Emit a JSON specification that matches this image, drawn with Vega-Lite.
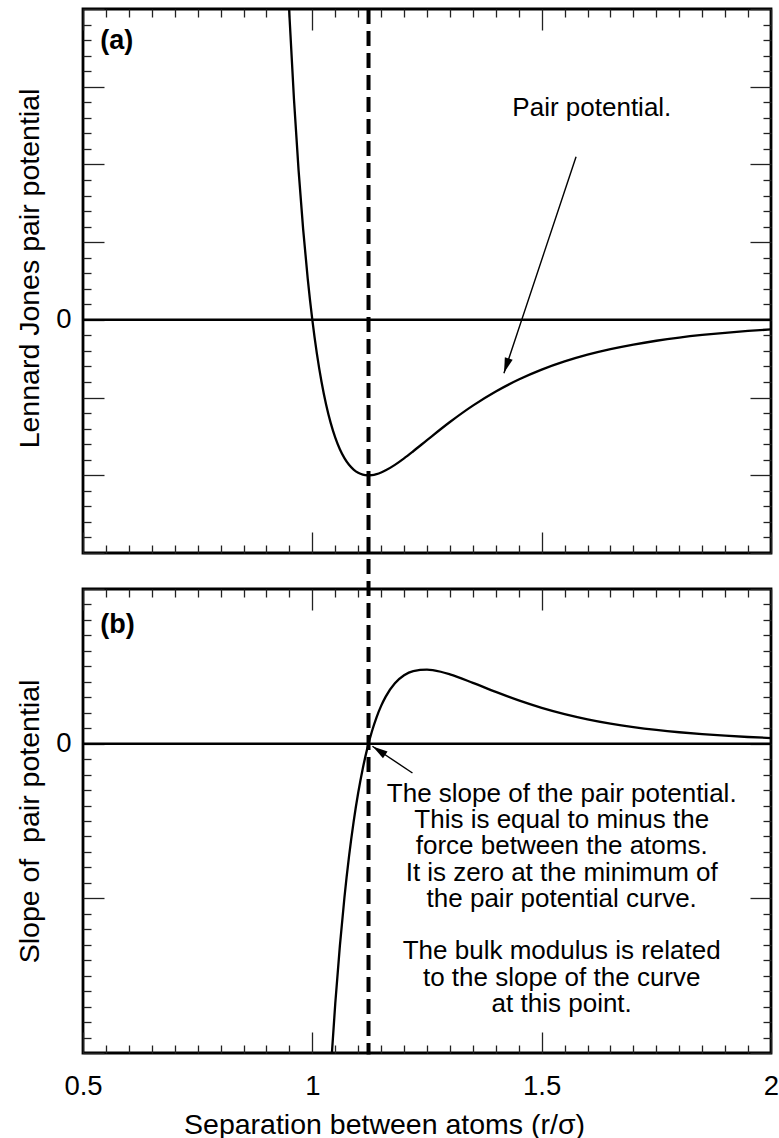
{
  "$schema": "https://vega.github.io/schema/vega-lite/v6.json",
  "background": "white",
  "padding": {"left": 13, "top": 5, "right": 0, "bottom": 0},
  "autosize": {"type": "pad"},
  "bounds": "flush",
  "spacing": 36,
  "datasets": {
    "potential": [
      {"r": 0.93, "V": 3.373}, {"r": 0.94, "V": 2.606}, {"r": 0.95, "V": 1.961}, {"r": 0.96, "V": 1.418},
      {"r": 0.97, "V": 0.963}, {"r": 0.98, "V": 0.582}, {"r": 0.99, "V": 0.264}, {"r": 1.0, "V": 0},
      {"r": 1.01, "V": -0.2184}, {"r": 1.02, "V": -0.3979}, {"r": 1.03, "V": -0.5444}, {"r": 1.04, "V": -0.6629},
      {"r": 1.05, "V": -0.7575}, {"r": 1.06, "V": -0.832}, {"r": 1.07, "V": -0.8893}, {"r": 1.08, "V": -0.9322},
      {"r": 1.09, "V": -0.9629}, {"r": 1.1, "V": -0.9834}, {"r": 1.11, "V": -0.9952}, {"r": 1.12, "V": -0.9998},
      {"r": 1.13, "V": -0.9985}, {"r": 1.14, "V": -0.9921}, {"r": 1.15, "V": -0.9817}, {"r": 1.16, "V": -0.9679},
      {"r": 1.18, "V": -0.9329}, {"r": 1.2, "V": -0.891}, {"r": 1.22, "V": -0.8452}, {"r": 1.25, "V": -0.7737},
      {"r": 1.3, "V": -0.657}, {"r": 1.35, "V": -0.5516}, {"r": 1.4, "V": -0.4607}, {"r": 1.45, "V": -0.3841},
      {"r": 1.5, "V": -0.3203}, {"r": 1.55, "V": -0.2677}, {"r": 1.6, "V": -0.2242}, {"r": 1.65, "V": -0.1884},
      {"r": 1.7, "V": -0.1589}, {"r": 1.75, "V": -0.1344}, {"r": 1.8, "V": -0.1141}, {"r": 1.85, "V": -0.0973},
      {"r": 1.9, "V": -0.0832}, {"r": 1.95, "V": -0.0714}, {"r": 2.0, "V": -0.0615}
    ],
    "slope": [
      {"r": 1.02, "F": -16.21}, {"r": 1.03, "F": -13.17}, {"r": 1.04, "F": -10.59}, {"r": 1.05, "F": -8.399},
      {"r": 1.06, "F": -6.543}, {"r": 1.07, "F": -4.973}, {"r": 1.08, "F": -3.646}, {"r": 1.09, "F": -2.528},
      {"r": 1.1, "F": -1.588}, {"r": 1.11, "F": -0.801}, {"r": 1.12, "F": -0.144}, {"r": 1.13, "F": 0.402},
      {"r": 1.14, "F": 0.852}, {"r": 1.15, "F": 1.221}, {"r": 1.16, "F": 1.521}, {"r": 1.18, "F": 1.952},
      {"r": 1.2, "F": 2.212}, {"r": 1.22, "F": 2.347}, {"r": 1.25, "F": 2.394}, {"r": 1.28, "F": 2.325},
      {"r": 1.3, "F": 2.24}, {"r": 1.35, "F": 1.966}, {"r": 1.4, "F": 1.672}, {"r": 1.45, "F": 1.398},
      {"r": 1.5, "F": 1.158}, {"r": 1.55, "F": 0.956}, {"r": 1.6, "F": 0.788}, {"r": 1.65, "F": 0.649},
      {"r": 1.7, "F": 0.536}, {"r": 1.75, "F": 0.444}, {"r": 1.8, "F": 0.369}, {"r": 1.85, "F": 0.308},
      {"r": 1.9, "F": 0.257}, {"r": 1.95, "F": 0.216}, {"r": 2.0, "F": 0.182}
    ]
  },
  "vconcat": [
    {
      "width": 688,
      "height": 544,
      "resolve": {"axis": {"x": "independent", "y": "independent"}},
      "layer": [
        {
          "data": {"name": "potential"},
          "mark": {"type": "line", "clip": true, "color": "black", "strokeWidth": 2.3, "interpolate": "monotone"},
          "encoding": {
            "x": {
              "field": "r", "type": "quantitative",
              "scale": {"domain": [0.5, 2], "nice": false, "zero": false},
              "axis": {
                "orient": "bottom", "labels": false, "title": null,
                "values": [0.5,0.55,0.6,0.65,0.7,0.75,0.8,0.85,0.9,0.95,1,1.05,1.1,1.15,1.2,1.25,1.3,1.35,1.4,1.45,1.5,1.55,1.6,1.65,1.7,1.75,1.8,1.85,1.9,1.95,2],
                "tickSize": {"condition": {"test": "abs(datum.value*2-round(datum.value*2))<1e-6", "value": -21}, "value": -8}
              }
            },
            "y": {
              "field": "V", "type": "quantitative",
              "scale": {"domain": [-1.5, 2], "nice": false, "zero": false},
              "axis": {
                "orient": "left",
                "values": [-1.5,-1.4,-1.3,-1.2,-1.1,-1,-0.9,-0.8,-0.7,-0.6,-0.5,-0.4,-0.3,-0.2,-0.1,0,0.1,0.2,0.3,0.4,0.5,0.6,0.7,0.8,0.9,1,1.1,1.2,1.3,1.4,1.5,1.6,1.7,1.8,1.9,2],
                "tickSize": {"condition": {"test": "abs(datum.value*2-round(datum.value*2))<1e-6", "value": -21}, "value": -8},
                "labelExpr": "datum.value == 0 ? '0' : ''",
                "labelFontSize": {"condition": {"test": "datum.value == 0", "value": 27.5}, "value": 0},
                "labelPadding": 33,
                "title": "Lennard Jones pair potential",
                "titleX": -45, "titleY": 259, "titleAngle": -90,
                "titleBaseline": "alphabetic", "titleAlign": "center"
              }
            }
          }
        },
        {
          "data": {"values": [{"level": 0}]},
          "mark": {"type": "rule", "color": "black", "strokeWidth": 2.5},
          "encoding": {
            "y": {
              "field": "level", "type": "quantitative",
              "scale": {"domain": [-1.5, 2], "nice": false, "zero": false},
              "axis": {
                "orient": "right", "labels": false, "title": null,
                "values": [-1.5,-1.4,-1.3,-1.2,-1.1,-1,-0.9,-0.8,-0.7,-0.6,-0.5,-0.4,-0.3,-0.2,-0.1,0,0.1,0.2,0.3,0.4,0.5,0.6,0.7,0.8,0.9,1,1.1,1.2,1.3,1.4,1.5,1.6,1.7,1.8,1.9,2],
                "tickSize": {"condition": {"test": "abs(datum.value*2-round(datum.value*2))<1e-6", "value": -21}, "value": -8}
              }
            }
          }
        },
        {
          "data": {"values": [{"r": 1.1225}]},
          "mark": {"type": "rule", "color": "black", "strokeWidth": 4, "strokeDash": [15, 7]},
          "encoding": {
            "x": {
              "field": "r", "type": "quantitative",
              "scale": {"domain": [0.5, 2], "nice": false, "zero": false},
              "axis": {
                "orient": "top", "labels": false, "title": null,
                "values": [0.5,0.55,0.6,0.65,0.7,0.75,0.8,0.85,0.9,0.95,1,1.05,1.1,1.15,1.2,1.25,1.3,1.35,1.4,1.45,1.5,1.55,1.6,1.65,1.7,1.75,1.8,1.85,1.9,1.95,2],
                "tickSize": {"condition": {"test": "abs(datum.value*2-round(datum.value*2))<1e-6", "value": -21}, "value": -8}
              }
            },
            "y": {"datum": 2, "type": "quantitative", "scale": {"domain": [-1.5, 2], "nice": false, "zero": false}, "axis": null},
            "y2": {"datum": -4.726}
          }
        },
        {
          "data": {"values": [{"r": 1.575, "v": 1.05}, {"r": 1.4177, "v": -0.344}]},
          "mark": {"type": "line", "color": "black", "strokeWidth": 1.4},
          "encoding": {
            "x": {"field": "r", "type": "quantitative", "scale": {"domain": [0.5, 2], "nice": false, "zero": false}, "axis": null},
            "y": {"field": "v", "type": "quantitative", "scale": {"domain": [-1.5, 2], "nice": false, "zero": false}, "axis": null}
          }
        },
        {
          "data": {"values": [{"r": 1.4231, "v": -0.2942}]},
          "mark": {"type": "point", "shape": "M0,-1L0.55,1L-0.55,1Z", "size": 225, "angle": 198.4, "filled": true, "color": "black", "opacity": 1},
          "encoding": {
            "x": {"field": "r", "type": "quantitative", "scale": {"domain": [0.5, 2], "nice": false, "zero": false}, "axis": null},
            "y": {"field": "v", "type": "quantitative", "scale": {"domain": [-1.5, 2], "nice": false, "zero": false}, "axis": null}
          }
        },
        {
          "data": {"values": [{"r": 1.6094, "v": 1.312, "note": "Pair potential."}]},
          "mark": {"type": "text", "font": "Liberation Sans", "fontSize": 26, "align": "center", "baseline": "alphabetic", "color": "black"},
          "encoding": {
            "x": {"field": "r", "type": "quantitative", "scale": {"domain": [0.5, 2], "nice": false, "zero": false}, "axis": null},
            "y": {"field": "v", "type": "quantitative", "scale": {"domain": [-1.5, 2], "nice": false, "zero": false}, "axis": null},
            "text": {"field": "note"}
          }
        },
        {
          "data": {"values": [{"r": 0.5378, "v": 1.74, "note": "(a)"}]},
          "mark": {"type": "text", "font": "Liberation Sans", "fontSize": 27, "fontWeight": "bold", "align": "left", "baseline": "alphabetic", "color": "black"},
          "encoding": {
            "x": {"field": "r", "type": "quantitative", "scale": {"domain": [0.5, 2], "nice": false, "zero": false}, "axis": null},
            "y": {"field": "v", "type": "quantitative", "scale": {"domain": [-1.5, 2], "nice": false, "zero": false}, "axis": null},
            "text": {"field": "note"}
          }
        }
      ]
    },
    {
      "width": 688,
      "height": 464,
      "resolve": {"axis": {"x": "independent", "y": "independent"}},
      "layer": [
        {
          "data": {"name": "slope"},
          "mark": {"type": "line", "clip": true, "color": "black", "strokeWidth": 2.3, "interpolate": "monotone"},
          "encoding": {
            "x": {
              "field": "r", "type": "quantitative",
              "scale": {"domain": [0.5, 2], "nice": false, "zero": false},
              "axis": {
                "orient": "bottom",
                "values": [0.5,0.55,0.6,0.65,0.7,0.75,0.8,0.85,0.9,0.95,1,1.05,1.1,1.15,1.2,1.25,1.3,1.35,1.4,1.45,1.5,1.55,1.6,1.65,1.7,1.75,1.8,1.85,1.9,1.95,2],
                "tickSize": {"condition": {"test": "abs(datum.value*2-round(datum.value*2))<1e-6", "value": -21}, "value": -8},
                "labelExpr": "abs(datum.value*2-round(datum.value*2))<1e-6 ? toString(datum.value) : ''",
                "labelBaseline": "alphabetic",
                "labelAlign": "center",
                "labelPadding": 62,
                "title": "Separation between atoms (r/σ)",
                "titleX": 301, "titleY": 80,
                "titleBaseline": "alphabetic", "titleAlign": "center"
              }
            },
            "y": {
              "field": "F", "type": "quantitative",
              "scale": {"domain": [-10, 5], "nice": false, "zero": false},
              "axis": {
                "orient": "left",
                "values": [-10,-9.5,-9,-8.5,-8,-7.5,-7,-6.5,-6,-5.5,-5,-4.5,-4,-3.5,-3,-2.5,-2,-1.5,-1,-0.5,0,0.5,1,1.5,2,2.5,3,3.5,4,4.5,5],
                "tickSize": {"condition": {"test": "abs(datum.value/5-round(datum.value/5))<1e-6", "value": -21}, "value": -8},
                "labelExpr": "datum.value == 0 ? '0' : ''",
                "labelFontSize": {"condition": {"test": "datum.value == 0", "value": 27.5}, "value": 0},
                "labelPadding": 33,
                "title": "Slope of \u00a0pair potential",
                "titleX": -45, "titleY": 232, "titleAngle": -90,
                "titleBaseline": "alphabetic", "titleAlign": "center"
              }
            }
          }
        },
        {
          "data": {"values": [{"level": 0}]},
          "mark": {"type": "rule", "color": "black", "strokeWidth": 2.5},
          "encoding": {
            "y": {
              "field": "level", "type": "quantitative",
              "scale": {"domain": [-10, 5], "nice": false, "zero": false},
              "axis": {
                "orient": "right", "labels": false, "title": null,
                "values": [-10,-9.5,-9,-8.5,-8,-7.5,-7,-6.5,-6,-5.5,-5,-4.5,-4,-3.5,-3,-2.5,-2,-1.5,-1,-0.5,0,0.5,1,1.5,2,2.5,3,3.5,4,4.5,5],
                "tickSize": {"condition": {"test": "abs(datum.value/5-round(datum.value/5))<1e-6", "value": -21}, "value": -8}
              }
            }
          }
        },
        {
          "data": {"values": [{"r": 1.2183, "v": -0.948}, {"r": 1.131, "v": -0.084}]},
          "mark": {"type": "line", "color": "black", "strokeWidth": 1.4},
          "encoding": {
            "x": {
              "field": "r", "type": "quantitative",
              "scale": {"domain": [0.5, 2], "nice": false, "zero": false},
              "axis": {
                "orient": "top", "labels": false, "title": null,
                "values": [0.5,0.55,0.6,0.65,0.7,0.75,0.8,0.85,0.9,0.95,1,1.05,1.1,1.15,1.2,1.25,1.3,1.35,1.4,1.45,1.5,1.55,1.6,1.65,1.7,1.75,1.8,1.85,1.9,1.95,2],
                "tickSize": {"condition": {"test": "abs(datum.value*2-round(datum.value*2))<1e-6", "value": -21}, "value": -8}
              }
            },
            "y": {"field": "v", "type": "quantitative", "scale": {"domain": [-10, 5], "nice": false, "zero": false}, "axis": null}
          }
        },
        {
          "data": {"values": [{"r": 1.1454, "v": -0.2265}]},
          "mark": {"type": "point", "shape": "M0,-1L0.55,1L-0.55,1Z", "size": 225, "angle": 303.7, "filled": true, "color": "black", "opacity": 1},
          "encoding": {
            "x": {"field": "r", "type": "quantitative", "scale": {"domain": [0.5, 2], "nice": false, "zero": false}, "axis": null},
            "y": {"field": "v", "type": "quantitative", "scale": {"domain": [-10, 5], "nice": false, "zero": false}, "axis": null}
          }
        },
        {
          "data": {"values": [
            {"r": 1.5437, "v": -1.887, "note": "The slope of the pair potential.\nThis is equal to minus the\nforce between the atoms.\nIt is zero at the minimum of\nthe pair potential curve."},
            {"r": 1.5437, "v": -6.974, "note": "The bulk modulus is related\nto the slope of the curve\nat this point."}
          ]},
          "mark": {"type": "text", "font": "Liberation Sans", "fontSize": 26, "lineHeight": 26.2, "lineBreak": "\n", "align": "center", "baseline": "alphabetic", "color": "black"},
          "encoding": {
            "x": {"field": "r", "type": "quantitative", "scale": {"domain": [0.5, 2], "nice": false, "zero": false}, "axis": null},
            "y": {"field": "v", "type": "quantitative", "scale": {"domain": [-10, 5], "nice": false, "zero": false}, "axis": null},
            "text": {"field": "note"}
          }
        },
        {
          "data": {"values": [{"r": 0.5378, "v": 3.583, "note": "(b)"}]},
          "mark": {"type": "text", "font": "Liberation Sans", "fontSize": 27, "fontWeight": "bold", "align": "left", "baseline": "alphabetic", "color": "black"},
          "encoding": {
            "x": {"field": "r", "type": "quantitative", "scale": {"domain": [0.5, 2], "nice": false, "zero": false}, "axis": null},
            "y": {"field": "v", "type": "quantitative", "scale": {"domain": [-10, 5], "nice": false, "zero": false}, "axis": null},
            "text": {"field": "note"}
          }
        }
      ]
    }
  ],
  "config": {
    "view": {"stroke": "black", "strokeWidth": 2.8},
    "axis": {
      "domain": false,
      "grid": false,
      "tickColor": "#222",
      "tickWidth": 1.3,
      "labelFont": "Liberation Sans",
      "labelFontSize": 27.5,
      "labelColor": "black",
      "labelOverlap": false,
      "labelFlush": false,
      "labelBound": false,
      "titleFont": "Liberation Sans",
      "titleFontSize": 28.5,
      "titleFontWeight": "normal",
      "titleColor": "black"
    }
  }
}
